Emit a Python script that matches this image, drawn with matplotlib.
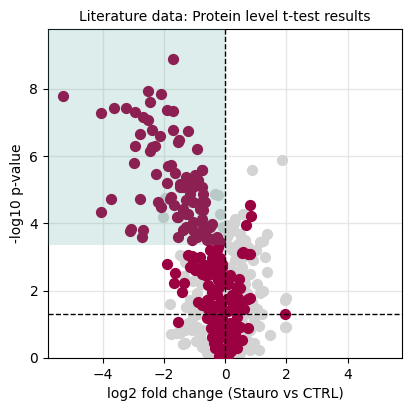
import numpy as np
import matplotlib
matplotlib.use("Agg")
import matplotlib.pyplot as plt

# significant proteins (crimson)
sig_x = [-1.70, -5.30, -2.51, -2.08, -2.46, -4.04, -3.61, -3.22, -2.93, -1.91,
         -1.70, -2.68, -2.51, -2.38, -2.79, -2.11, -1.70, -1.22, -1.50, -1.55,
         -2.93, -2.40, -2.30, -2.46, -0.93, -2.98, -1.86, -1.75, -1.64, -2.24,
         -1.89, -1.26, -0.98, -0.74, -0.88, -1.48, -1.37, -1.04, -0.76, -3.71,
         -2.79, -4.04, -2.19, -2.08, -1.75, -1.66, -1.15, -0.71, -0.66, -0.82,
         -1.37, -1.20, -0.71, -1.53, -3.06, -3.11, -2.68, -2.70, -1.26, -0.71,
         -0.44, -0.82, -1.53, -1.09, -0.60, -0.38, -0.16,
         -1.80, -1.58, -1.37, -0.82, -0.71, -1.37, -1.04, -0.71, -0.49, -0.27,
         -0.60, -0.93, -1.48, -1.15, -0.76, -0.93, -1.26, -1.04, -1.26, -0.76, -1.04,
         -0.22, -1.20, -1.04, -0.82, -0.49, -0.27, -0.16, -0.44, -0.66,
         -1.91, -1.64, -1.67, -1.34, -1.42, -1.53, -1.09, -1.04, -1.15, -0.98,
         -0.71, -0.66, -0.76, -0.82, -0.38, -0.22, -0.11, -0.38, -0.49, -0.27,
         -0.16, -0.22, 0.16, 0.47, 0.40, 0.55, 0.80, -0.55, -0.44, -0.22, -0.27,
         -0.87, -0.76, -0.60, -0.49, -0.33, -0.11, 0.22, 0.33, 0.44, 0.38, 0.76,
         -0.44, -0.38, -0.27, -0.44, -0.22, -0.11, -0.05, 0.00, 0.05, -0.33,
         -0.16, 0.11, 0.22, 0.33, 0.49, 0.38, 0.55, 0.76, 0.16, 1.97,
         0.80, 0.84, 0.69, 0.60, 0.76, 0.16, 0.49, 0.82,
         -0.30, -0.10, 0.05, -0.20, -0.05, 0.10, -0.40, -0.55, -0.60, -0.35,
         -0.15, 0.00, 0.20, 0.25, -0.05, -0.25, 0.10, 0.30, 0.15, -0.20,
         0.05, 0.40, -0.45, 0.25, 0.45, 0.35, 0.10, -0.10, 0.62]
sig_y = [8.89, 7.80, 7.95, 7.85, 7.61, 7.28, 7.43, 7.43, 7.31, 7.38,
         7.36, 7.16, 7.08, 6.79, 6.65, 6.59, 6.78, 6.74, 6.47, 6.42,
         6.29, 6.27, 6.29, 6.17, 6.22, 5.80, 5.70, 5.73, 5.50, 5.46,
         5.20, 5.38, 5.43, 5.60, 5.30, 5.18, 5.08, 5.08, 5.10, 4.74,
         4.74, 4.34, 4.65, 4.49, 4.79, 4.54, 4.87, 4.89, 4.64, 4.62,
         4.39, 4.29, 4.39, 4.20, 3.85, 3.78, 3.82, 3.60, 3.90, 3.95,
         3.98, 3.70, 3.60, 3.50, 3.60, 3.55, 3.45,
         4.74, 4.20, 4.44, 4.44, 4.65, 3.80, 3.80, 3.80, 3.90, 3.61,
         3.50, 3.61, 5.09, 5.18, 5.58, 5.28, 4.69, 4.65, 4.29, 4.14, 4.04,
         3.30, 3.06, 2.96, 3.01, 3.20, 3.20, 2.96, 2.96, 2.76,
         2.81, 2.53, 2.24, 2.24, 1.97, 1.08, 3.02, 2.87, 2.72, 2.61,
         2.76, 2.46, 2.51, 2.66, 3.00, 2.86, 2.71, 2.71, 2.51, 2.41,
         2.51, 2.31, 2.41, 2.36, 2.12, 3.13, 3.10, 2.17, 1.97, 2.07, 1.87,
         1.67, 1.57, 1.72, 1.62, 1.52, 1.67, 1.87, 1.67, 1.77, 1.47, 1.75,
         1.32, 1.08, 0.83, 0.63, 0.53, 1.23, 0.93, 0.63, 0.34, 0.29,
         0.09, 0.09, 0.44, 0.73, 0.93, 1.23, 0.53, 0.88, 1.03, 1.32,
         4.56, 4.21, 3.95, 3.16, 3.10, 2.46, 2.07, 1.77,
         1.55, 1.45, 1.75, 2.10, 2.40, 1.40, 1.90, 1.45, 1.20, 0.45,
         0.30, 0.15, 0.20, 0.65, 0.70, 1.00, 0.55, 1.00, 0.80, 0.05,
         0.05, 0.30, 0.90, 1.55, 1.60, 1.95, 2.20, 2.80, 1.45]

# non-significant proteins (grey)
ns_x = [1.86, 0.87, 0.60, 0.33, 1.37, 1.15, 0.66, 0.49, 0.38, 0.22,
        0.33, 0.55, 0.82, 1.37, 1.04, 1.15, 0.87, 1.04, 0.93, 0.82,
        1.48, 1.97, 1.97, 0.60, 0.38, 0.05, 0.16, 0.05, 0.05, 0.16,
        0.66, 0.71, 0.49, 0.66, 0.76, 0.49, 0.82, 0.71,
        -0.33, -0.22, -0.16, -2.03, -1.97, -1.15, -0.05, 0.10, 0.25,
        -1.31, -1.48, -1.80, -1.48, -1.04, -0.93, -1.15, -1.26, -1.04, -0.93,
        -0.82, -0.76, -0.60, -0.71, -1.09, -1.20, -1.58, -1.31, -0.87, -1.09,
        -1.77, -1.38, 2.00, 2.00, 1.25,
        0.25, 0.30, 0.20, 0.40, 0.30, 0.55, 0.60, 0.45, 0.35, 0.60,
        0.90, 0.70, 1.20, 1.10, 0.95, 0.50, 1.25, 0.20, 0.75, 0.50,
        0.15, 0.28, -0.30, -0.60, -0.90, -0.50, -0.70, -0.95, -0.50, -0.65,
        -0.45, 1.10, 1.30, 1.00, -0.20, -0.45, -1.30, -0.80, -1.35]
ns_y = [5.88, 5.60, 4.29, 4.14, 3.70, 3.46, 3.50, 3.70, 3.35, 3.20,
        2.91, 2.71, 2.51, 2.56, 2.21, 1.92, 1.67, 1.47, 1.13, 0.83,
        0.68, 1.72, 0.93, 0.34, 0.09, 3.61, 3.30, 2.51, 2.02, 2.71,
        2.21, 1.92, 1.42, 1.32, 1.42, 1.13, 0.24, 0.53,
        4.89, 4.84, 4.29, 4.18, 4.75, 4.64, 3.90, 3.95, 3.85,
        0.44, 0.73, 1.62, 3.06, 2.28, 1.92, 1.72, 1.52, 1.23, 0.93,
        0.63, 0.34, 0.14, 0.83, 0.83, 1.03, 0.73, 0.83, 1.32, 1.42,
        0.71, 0.42, 1.78, 0.92, 3.47,
        2.30, 1.80, 1.50, 0.50, 0.20, 0.75, 1.00, 2.60, 3.10, 3.00,
        2.90, 2.45, 1.30, 0.95, 0.45, 0.15, 2.00, 0.90, 3.30, 3.45,
        3.75, 4.00, 2.70, 2.40, 2.60, 1.85, 1.60, 0.50, 0.90, 0.45,
        0.15, 0.25, 3.00, 3.20, 3.30, 3.20, 2.85, 2.20, 2.45]

p_line = -np.log10(0.05)
shade_bottom = 3.35

fig, ax = plt.subplots(figsize=(4.11, 4.11), dpi=100)
fig.subplots_adjust(left=0.117, right=0.978, bottom=0.129, top=0.929)

ax.scatter(ns_x, ns_y, s=50, color='lightgrey', zorder=2)
ax.scatter(sig_x, sig_y, s=50, color='#9b0040', zorder=3)

ax.axhline(p_line, color='black', linestyle='--', linewidth=1, zorder=4)
ax.axvline(0, color='black', linestyle='--', linewidth=1, zorder=4)

xmax = max(abs(v) for v in sig_x + ns_x) * 1.09
ymax = max(sig_y + ns_y) * 1.1
ax.set_xlim(-xmax, xmax)
ax.set_ylim(0, ymax)

ax.fill_between([-xmax, 0], shade_bottom, ymax, color='#50a59b', alpha=0.2,
                linewidth=0, zorder=5)

ax.set_xticks([-4, -2, 0, 2, 4])
ax.set_yticks([0, 2, 4, 6, 8])
ax.grid(True, color='#e6e6e6', linewidth=1)
ax.set_axisbelow(True)

ax.set_xlabel('log2 fold change (Stauro vs CTRL)')
ax.set_ylabel('-log10 p-value')
ax.set_title('Literature data: Protein level t-test results', fontsize=10)

fig.savefig('out.png', dpi=100)
